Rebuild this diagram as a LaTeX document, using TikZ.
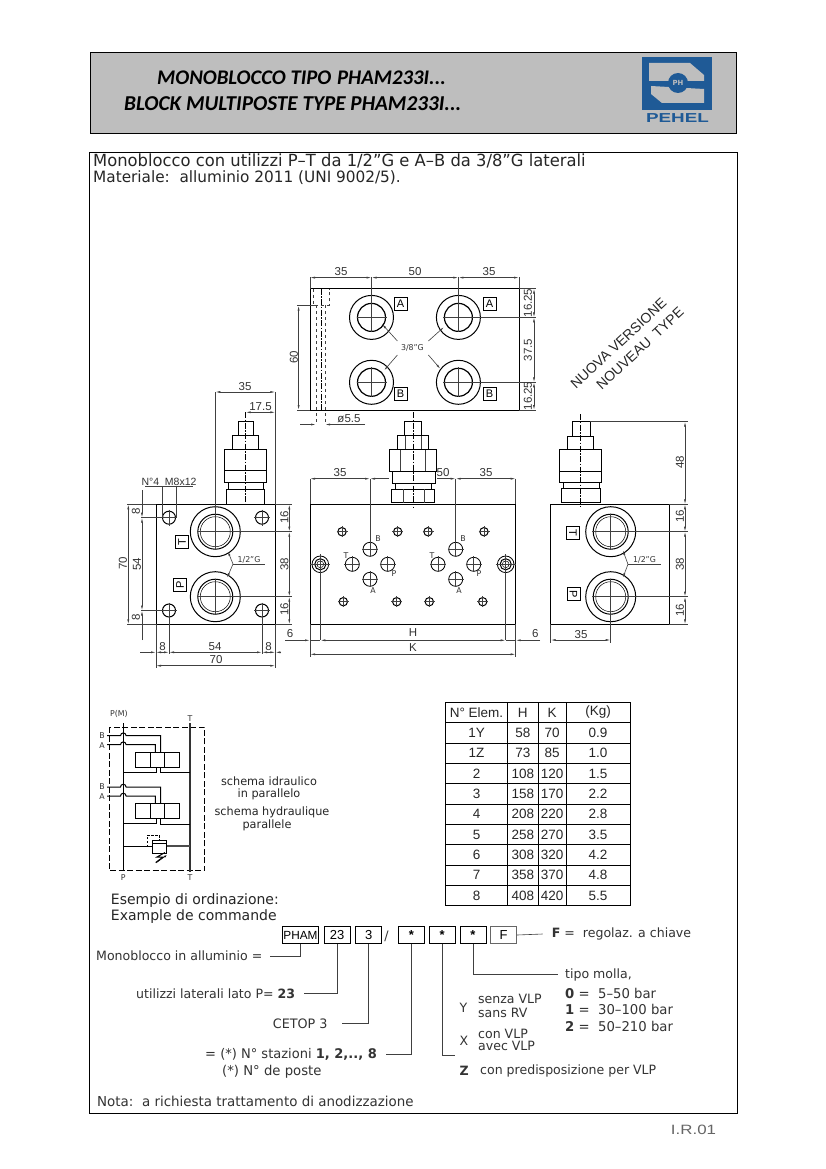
\documentclass[tikz,border=0pt]{standalone}
\usepackage{fontspec}
\setmainfont{DejaVu Sans}[FakeStretch=0.98]
\newfontfamily\headfont{Carlito}
\newfontfamily\dimfont{Liberation Sans}
\usetikzlibrary{arrows.meta,positioning}
\definecolor{headgray}{HTML}{BEBEBE}
\definecolor{logoblue}{HTML}{1F5A96}
\begin{document}
\begin{tikzpicture}[x=1pt,y=-1pt,
  outline/.style={line width=1pt,black},
  thinline/.style={line width=.6pt,black!75},
  dimline/.style={line width=.6pt,black!75,{Latex[length=5pt,width=2pt]}-{Latex[length=5pt,width=2pt]}},
  dimend/.style={line width=.6pt,black!75,-{Latex[length=5pt,width=2pt]}},
  dimtxt/.style={font=\dimfont\fontsize{11.5}{11.5}\selectfont,text=black!80,inner sep=0pt},
  smalltxt/.style={font=\fontsize{8}{8}\selectfont,text=black!80,inner sep=0pt},
  bodytxt/.style={font=\fontsize{14.3}{14.3}\selectfont,text=black!85,inner sep=0pt,anchor=west},
  notetxt/.style={font=\fontsize{12.8}{12.8}\selectfont,text=black!80,inner sep=0pt,anchor=west},
  schtxt/.style={font=\fontsize{11.5}{11.5}\selectfont,text=black!85,inner sep=0pt},
  portbox/.style={draw,line width=.8pt,font=\dimfont\fontsize{11}{11}\selectfont,inner sep=0pt,minimum size=13pt},
  codebox/.style={draw,line width=.9pt,font=\dimfont\fontsize{13}{13}\selectfont,inner sep=0pt,minimum height=16.6pt,minimum width=26pt},
  tabletxt/.style={font=\dimfont\fontsize{13.5}{13.5}\selectfont,text=black!85,inner sep=0pt},
  centerline/.style={line width=.5pt,black,dash pattern=on 6pt off 1.5pt on 1.5pt off 1.5pt}
]
\useasboundingbox (0,0) rectangle (826,1169);
\fill[white] (0,0) rectangle (826,1169);

% Title band
\draw[fill=headgray,line width=.9pt] (90,52) rectangle (736,133);
\node[font=\headfont\fontsize{20.8}{20.8}\selectfont\bfseries\itshape,inner sep=0pt,anchor=west] (titleit) at (157,78) {MONOBLOCCO TIPO\ \kern1pt PHAM233I...};
\node[font=\headfont\fontsize{21.2}{21.2}\selectfont\bfseries\itshape,inner sep=0pt,anchor=west] (titlefr) at (124,104) {BLOCK MULTIPOSTE TYPE PHAM233I...};

% Logo
\fill[logoblue] (642,57) rectangle (712,110);
\fill[headgray] (649,63) -- (690,63) -- (704,75) -- (704,81) -- (649,81) -- cycle;
\fill[headgray] (651,86) -- (704,89) -- (704,103) -- (662,103) -- (651,94) -- cycle;
\fill[logoblue] (678,83) circle[radius=10];
\node[font=\fontsize{7}{7}\selectfont\bfseries,text=headgray,inner sep=0pt] (logoph) at (678,83) {PH};
\node[font=\dimfont\fontsize{13}{13}\selectfont\bfseries,text=logoblue,inner sep=0pt,xscale=1.45] (logoname) at (677.5,118.5) {PEHEL};

% Main frame
\draw[line width=.9pt] (89,152) rectangle (737,1113);
\node[bodytxt,font=\fontsize{16.7}{16.7}\selectfont] (intro1) at (93,161) {Monoblocco con utilizzi P--T da 1/2"G e A--B da 3/8"G laterali};
\node[bodytxt,font=\fontsize{15.6}{15.6}\selectfont] (intro2) at (93,178) {Materiale:\ \ alluminio 2011 (UNI 9002/5).};

% Top view
\draw[outline] (310,288.7) rectangle (519,410);
\foreach \x in {371.5,458.4}
  \foreach \y in {317.4,382.3} {
    \draw[outline] (\x,\y) circle[radius=22];
    \draw[line width=1.2pt] (\x,\y) circle[radius=14];
    \draw[thinline] (\x-15,\y) -- (\x+15,\y);
    \draw[thinline] (\x,\y-15) -- (\x,\y+15);
  }
\draw[line width=.6pt,black!75,dashed] (313,288.7) -- (313,305) -- (329,305) -- (329,288.7);
\draw[line width=.6pt,black!75,dashed] (316,305) -- (316,424);
\draw[line width=.6pt,black!75,dashed] (325,305) -- (325,424);
\draw[centerline] (321,288.7) -- (321,410);
\node[portbox] (topA1) at (400.5,304) {A};
\node[portbox] (topA2) at (489.5,304) {A};
\node[portbox] (topB1) at (400.5,394) {B};
\node[portbox] (topB2) at (489.5,394) {B};
\node[smalltxt] (topG) at (412.4,348) {3/8"G};
\draw[dimend] (topG) ++(-15,-7) -- (382,324);
\draw[dimend] (topG) ++(16,-7) -- (444,327);
\draw[dimend] (topG) ++(-15,7) -- (384,370.5);
\draw[dimend] (topG) ++(16,7) -- (440.5,369);
\draw[thinline] (310,277) -- (310,288.7);
\draw[thinline] (371.5,277) -- (371.5,317);
\draw[thinline] (458.4,277) -- (458.4,317);
\draw[thinline] (519,277) -- (519,288.7);
\draw[dimline] (310,277.6) -- (371.5,277.6);
\draw[dimline] (371.5,277.6) -- (458.4,277.6);
\draw[dimline] (458.4,277.6) -- (519,277.6);
\node[dimtxt] (topd1) at (341,272) {35};
\node[dimtxt] (topd2) at (415,272) {50};
\node[dimtxt] (topd3) at (489,272) {35};
\draw[thinline] (458,317.4) -- (536,317.4);
\draw[thinline] (458,382.3) -- (536,382.3);
\draw[dimline] (534,288.7) -- (534,317.4);
\draw[dimline] (534,317.4) -- (534,382.3);
\draw[dimline] (534,382.3) -- (534,410);
\draw[thinline] (519,288.7) -- (536,288.7);
\draw[thinline] (519,410) -- (536,410);
\node[dimtxt,rotate=90] (topd4) at (528,303) {16.25};
\node[dimtxt,rotate=90] (topd5) at (528,350) {37.5};
\node[dimtxt,rotate=90] (topd6) at (528,396) {16.25};
\draw[thinline] (297,305.6) -- (318,305.6);
\draw[thinline] (297,410) -- (310,410);
\draw[dimline] (298.6,305.6) -- (298.6,410);
\node[dimtxt,rotate=90] (topd7) at (294,357) {60};
\draw[dimend] (300,424.5) -- (316,424.5);
\draw[dimend] (365,424.5) -- (325,424.5);
\node[dimtxt,anchor=south] (topd8) at (349,423) {ø5.5};

% New version note
\node[font=\dimfont\fontsize{14}{14}\selectfont,text=black!85,rotate=43,inner sep=0pt] (noteit) at (618.5,343.5) {NUOVA VERSIONE};
\node[font=\dimfont\fontsize{14}{14}\selectfont,text=black!85,rotate=43,inner sep=0pt] (notefr) at (640,348.5) {NOUVEAU\ \ TYPE};

% Left view
\draw[outline] (156,504.3) rectangle (275.3,624.3);
\foreach \y in {531.7,596.7} {
  \draw[outline] (215.3,\y) circle[radius=25];
  \draw[outline] (215.3,\y) circle[radius=17.5];
  \draw[line width=.5pt] (215.3,\y) circle[radius=15];
  \draw[thinline] (197,\y) -- (233,\y);
  \draw[thinline] (215.3,\y-18) -- (215.3,\y+18);
}
\foreach \x/\y in {169/517.7,262/517.7,169/610.5,262/610.5} {
  \draw[outline] (\x,\y) circle[radius=6.5];
  \draw[thinline] (\x-8,\y) -- (\x+8,\y);
  \draw[thinline] (\x,\y-8) -- (\x,\y+8);
}
\draw[outline,fill=white] (226.3,489) rectangle (264.7,504.3);
\draw[outline,fill=white] (228,482.7) rectangle (263,489);
\draw[outline,fill=white] (224.7,449) rectangle (266.7,482.7);
\draw[outline] (224.7,470.7) -- (266.7,470.7);
\draw[outline,fill=white] (232.3,435.3) rectangle (258.7,449);
\draw[outline,fill=white] (238,421.3) rectangle (253.3,435.3);
\draw[centerline] (245.7,412) -- (245.7,504);
\node[portbox,rotate=90] (leftT) at (182,542) {T};
\node[portbox,rotate=90] (leftP) at (180,585) {P};
\node[smalltxt,anchor=south] (leftG) at (249,563) {1/2"G};
\draw[thinline] (233,564) -- (265,564);
\draw[dimend] (233,564) -- (227.7,551);
\draw[dimend] (233,564) -- (227,578);
\draw[thinline] (215.3,392) -- (215.3,531);
\draw[thinline] (275.3,392) -- (275.3,504.3);
\draw[dimline] (215.3,392) -- (275.3,392);
\node[dimtxt] (leftd1) at (245,387) {35};
\draw[dimline] (245.7,412.3) -- (275.3,412.3);
\node[dimtxt] (leftd2) at (260.5,407) {17.5};
\node[dimtxt,font=\dimfont\fontsize{10.5}{10.5}\selectfont] (leftd3) at (169,481.5) {N°4\ \ M8x12};
\draw[thinline] (145,486.7) -- (193,486.7);
\draw[thinline] (162,486.7) -- (162,517);
\draw[thinline] (176,486.7) -- (176,517);
\draw[thinline] (127,504.3) -- (156,504.3);
\draw[thinline] (127,624.3) -- (156,624.3);
\draw[dimline] (128.3,504.3) -- (128.3,624.3);
\node[dimtxt,rotate=90] (leftd4) at (123,563) {70};
\draw[thinline] (141,517.7) -- (169,517.7);
\draw[thinline] (141,610.5) -- (169,610.5);
\draw[dimend] (142,490) -- (142,517.7);
\draw[dimline] (142,517.7) -- (142,610.5);
\draw[dimend] (142,640) -- (142,610.5);
\node[dimtxt,rotate=90] (leftd5) at (137,564) {54};
\node[dimtxt,rotate=90] (leftd6) at (136,511) {8};
\node[dimtxt,rotate=90] (leftd7) at (136,617) {8};
\draw[thinline] (275.3,504.3) -- (292,504.3);
\draw[thinline] (215,531.7) -- (292,531.7);
\draw[thinline] (215,596.7) -- (292,596.7);
\draw[thinline] (275.3,624.3) -- (292,624.3);
\draw[dimline] (289.3,504.3) -- (289.3,531.7);
\draw[dimline] (289.3,531.7) -- (289.3,596.7);
\draw[dimline] (289.3,596.7) -- (289.3,624.3);
\node[dimtxt,rotate=90] (leftd8) at (284.5,517) {16};
\node[dimtxt,rotate=90] (leftd9) at (284.5,564) {38};
\node[dimtxt,rotate=90] (leftd10) at (284.5,609) {16};
\draw[thinline] (156,624.3) -- (156,668);
\draw[thinline] (275.3,624.3) -- (275.3,668);
\draw[thinline] (169,610) -- (169,654);
\draw[thinline] (262,610) -- (262,654);
\draw[dimend] (140,652.3) -- (156,652.3);
\draw[dimline] (156,652.3) -- (169,652.3);
\draw[dimline] (169,652.3) -- (262,652.3);
\draw[dimline] (262,652.3) -- (275.3,652.3);
\draw[dimend] (281,652.3) -- (275.3,652.3);
\node[dimtxt] (leftd11) at (162.5,647) {8};
\node[dimtxt] (leftd12) at (215,647) {54};
\node[dimtxt] (leftd13) at (268.5,647) {8};
\draw[dimline] (156,665.7) -- (275.3,665.7);
\node[dimtxt] (leftd14) at (216,660) {70};

% Centre view
\draw[outline] (310,504.3) rectangle (515.7,624.3);
\foreach \x/\y in {342/531.7,397.7/531.7,428/531.7,484/531.7,343.3/601.7,396.7/601.7,429.3/601.7,482.7/601.7} {
  \draw[outline] (\x,\y) circle[radius=4.2];
  \draw[thinline] (\x-5.5,\y) -- (\x+5.5,\y);
  \draw[thinline] (\x,\y-5.5) -- (\x,\y+5.5);
}
\foreach \x/\y in {370/549.3,352.3/564.3,387.7/564.3,370/579.3,455.7/549.3,438/564.3,473.7/564.3,455.7/579.3} {
  \draw[line width=.8pt] (\x,\y) circle[radius=7];
  \draw[thinline] (\x-8,\y) -- (\x+8,\y);
  \draw[thinline] (\x,\y-8) -- (\x,\y+8);
}
\foreach \x in {320.3,505.7} {
  \draw[line width=.8pt] (\x,564.3) circle[radius=8.3];
  \draw[outline] (\x,564.3) circle[radius=5.6];
  \draw[line width=.5pt] (\x,564.3) circle[radius=3.4];
  \draw[thinline] (\x-10,564.3) -- (\x+10,564.3);
  \draw[thinline] (\x,554) -- (\x,640.3);
}
\foreach \t/\x/\y [count=\i] in {B/378/539,T/346/556,P/394/574,A/373/591,B/463/539,T/432/556,P/479/574,A/459/591}
  \node[smalltxt] (mark\i) at (\x,\y) {\t};
\draw[outline,fill=white] (391.3,489) rectangle (434.7,502.5);
\draw[outline,fill=white] (395.7,483) rectangle (431.3,489);
\draw[outline,fill=white] (392.3,471) rectangle (435,483);
\draw[outline,fill=white] (389.3,449.3) rectangle (436.7,471);
\draw[thinline] (400.5,449.3) -- (400.5,471);
\draw[thinline] (425.5,449.3) -- (425.5,471);
\draw[thinline] (403,489) -- (403,502.5);
\draw[thinline] (424,489) -- (424,502.5);
\draw[outline,fill=white] (397.3,435.7) rectangle (428.7,449.3);
\draw[thinline] (405,435.7) -- (405,449.3);
\draw[thinline] (421,435.7) -- (421,449.3);
\draw[outline,fill=white] (404.7,421.7) rectangle (421.3,435.7);
\draw[centerline] (413.3,412) -- (413.3,507);
\draw[thinline] (310,478.7) -- (310,504.3);
\draw[thinline] (515.7,478.7) -- (515.7,504.3);
\draw[thinline] (370,478.7) -- (370,547);
\draw[thinline] (455.7,478.7) -- (455.7,547);
\draw[dimline] (310,478.7) -- (370,478.7);
\draw[dimend] (389,478.7) -- (370,478.7);
\draw[dimend] (437,478.7) -- (455.7,478.7);
\draw[dimline] (455.7,478.7) -- (515.7,478.7);
\node[dimtxt] (midd1) at (340,473) {35};
\node[dimtxt] (midd2) at (443,473) {50};
\node[dimtxt] (midd3) at (486,473) {35};
\draw[thinline] (310,624.3) -- (310,657);
\draw[thinline] (515.7,624.3) -- (515.7,657);
\draw[dimend] (285,640.3) -- (310,640.3);
\draw[dimline] (320.3,640.3) -- (505.7,640.3);
\draw[dimend] (540,640.3) -- (515.7,640.3);
\draw[thinline] (310,640.3) -- (320.3,640.3);
\draw[thinline] (505.7,640.3) -- (515.7,640.3);
\draw[dimline] (310,654.3) -- (515.7,654.3);
\node[dimtxt] (midd4) at (290,634) {6};
\node[dimtxt] (midH) at (413,633) {H};
\node[dimtxt] (midd5) at (535.3,634) {6};
\node[dimtxt] (midK) at (413,648) {K};

% Right view
\draw[outline] (550.7,504.3) rectangle (669.3,624.3);
\foreach \y in {531.7,596.7} {
  \draw[outline] (610.7,\y) circle[radius=25];
  \draw[outline] (610.7,\y) circle[radius=17.5];
  \draw[line width=.5pt] (610.7,\y) circle[radius=15];
  \draw[thinline] (592,\y) -- (629,\y);
  \draw[thinline] (610.7,\y-18) -- (610.7,\y+18);
}
\draw[outline,fill=white] (561.7,488.3) rectangle (600,502.7);
\draw[outline,fill=white] (563,482.7) rectangle (599,488.3);
\draw[outline,fill=white] (559.3,449.3) rectangle (601.7,482.7);
\draw[outline] (559.3,471) -- (601.7,471);
\draw[outline,fill=white] (567.7,436) rectangle (593.3,449.3);
\draw[outline,fill=white] (572.3,421.7) rectangle (590,436);
\draw[centerline] (580.7,414) -- (580.7,506);
\node[portbox,rotate=-90] (rightT) at (573,533) {T};
\node[portbox,rotate=-90] (rightP) at (573.5,594) {P};
\node[smalltxt,anchor=south] (rightG) at (644.5,563) {1/2"G};
\draw[thinline] (628,564.3) -- (661,564.3);
\draw[dimend] (628,564.3) -- (622.7,550);
\draw[dimend] (628,564.3) -- (622.7,578);
\draw[thinline] (590,421.7) -- (688,421.7);
\draw[thinline] (669.3,504.3) -- (688,504.3);
\draw[thinline] (611,531.7) -- (688,531.7);
\draw[thinline] (611,596.7) -- (688,596.7);
\draw[thinline] (669.3,624.3) -- (688,624.3);
\draw[dimline] (685,421.7) -- (685,504.3);
\draw[dimline] (685,504.3) -- (685,531.7);
\draw[dimline] (685,531.7) -- (685,596.7);
\draw[dimline] (685,596.7) -- (685,624.3);
\node[dimtxt,rotate=90] (rightd1) at (680,462) {48};
\node[dimtxt,rotate=90] (rightd2) at (680,516) {16};
\node[dimtxt,rotate=90] (rightd3) at (680,564) {38};
\node[dimtxt,rotate=90] (rightd4) at (680,610) {16};
\draw[thinline] (550.7,624.3) -- (550.7,643);
\draw[thinline] (610.7,597) -- (610.7,643);
\draw[dimline] (550.7,640) -- (610.7,640);
\node[dimtxt] (rightd5) at (581,635) {35};

% Hydraulic schema
\draw[line width=.8pt,dashed,dash pattern=on 6pt off 2.5pt] (109,727.3) rectangle (204.7,870.7);
\draw[outline] (123.3,723) -- (123.3,871);
\draw[line width=1.2pt,black!80] (190,723) -- (190,872);
\foreach \dy in {0,51.3} {
  \draw[outline] (107,735.7+\dy) -- (120.5,735.7+\dy) arc[start angle=180,end angle=360,radius=2.8] -- (160.7,735.7+\dy) -- (160.7,752.3+\dy);
  \draw[outline] (107,744.7+\dy) -- (120.5,744.7+\dy) arc[start angle=180,end angle=360,radius=2.8] -- (155.3,744.7+\dy) -- (155.3,752.3+\dy);
  \draw[outline] (135.7,752.3+\dy) rectangle (179.7,767.3+\dy);
  \draw[outline] (150.7,752.3+\dy) -- (150.7,767.3+\dy);
  \draw[outline] (164.7,752.3+\dy) -- (164.7,767.3+\dy);
  \draw[outline] (123.3,772.3+\dy) -- (156,772.3+\dy) -- (156,767.3+\dy);
  \draw[outline] (160.7,767.3+\dy) -- (160.7,772.7+\dy) -- (190,772.7+\dy);
}
\draw[outline,fill=white] (152.3,840) rectangle (166.7,853.3);
\draw[line width=.6pt] (152.3,843.3) -- (166.7,843.3);
\draw[outline] (123.3,846) -- (152.3,846);
\draw[line width=1.2pt,black!70] (166.7,846) -- (190,846);
\draw[line width=.7pt,dashed,dash pattern=on 2.5pt off 1.5pt] (152.3,846) -- (147.3,846) -- (147.3,835) -- (159.3,835) -- (159.3,840);
\draw[line width=1pt] (155.7,862.5) -- (163,857) -- (157,857) -- (165,852.5);
\draw[line width=.5pt,-{Latex[length=3pt,width=2pt]}] (156,863) -- (167,855);
\node[smalltxt] (hydPM) at (119,714) {P(M)};
\node[smalltxt] (hydT1) at (190,719) {T};
\node[smalltxt] (hydP) at (123.3,878) {P};
\node[smalltxt] (hydT2) at (190,878) {T};
\foreach \t/\y [count=\i] in {B/736,A/746,B/787,A/797}
  \node[smalltxt] (port\i) at (102,\y) {\t};
\node[schtxt] (sch1) at (269,781) {schema idraulico};
\node[schtxt] (sch2) at (269,794) {in parallelo};
\node[schtxt] (sch3) at (272,812) {schema hydraulique};
\node[schtxt] (sch4) at (267,825) {parallele};

% Table
\draw[line width=1pt] (445.7,702.3) rectangle (630,905.7);
\foreach \i in {1,...,9}
  \draw[line width=.9pt] (445.7,702.3+\i*20.34) -- (630,702.3+\i*20.34);
\foreach \x in {507.3,538.3,566}
  \draw[line width=.9pt] (\x,702.3) -- (\x,905.7);
\foreach \a/\b/\c/\d [count=\i from 0] in {{N° Elem.}/H/K/(Kg),1Y/58/70/0.9,1Z/73/85/1.0,2/108/120/1.5,3/158/170/2.2,4/208/220/2.8,5/258/270/3.5,6/308/320/4.2,7/358/370/4.8,8/408/420/5.5} {
  \node[tabletxt] (ta\i) at (476.5,712.5+\i*20.34) {\a};
  \node[tabletxt] (tb\i) at (522.8,712.5+\i*20.34) {\b};
  \node[tabletxt] (tc\i) at (552.2,712.5+\i*20.34) {\c};
  \node[tabletxt] (td\i) at (598,712.5+\i*20.34) {\d};
}

% Ordering code
\node[bodytxt] (ex1) at (110.7,901) {Esempio di ordinazione:};
\node[bodytxt] (ex2) at (110.7,917) {Example de commande};
\node[codebox,minimum width=35.6pt,font=\dimfont\fontsize{11.8}{11.8}\selectfont] (pham) at (300.5,935) {PHAM};
\node[codebox] (c23) at (337.2,935) {23};
\node[codebox] (c3) at (368.7,935) {3};
\node[dimtxt,font=\fontsize{13}{13}\selectfont] (slash) at (386.5,936) {/};
\node[codebox] (st1) at (411.3,935) {\textbf{*}};
\node[codebox] (st2) at (442.2,935) {\textbf{*}};
\node[codebox] (st3) at (473,935) {\textbf{*}};
\node[codebox,draw=black!60] (cf) at (503.7,935) {F};
\node[notetxt] (regol) at (551.7,934) {\textbf{F} =\ \ regolaz. a chiave};
\node[notetxt] (monol) at (96,956) {Monoblocco in alluminio =};
\node[notetxt] (utill) at (136,993.5) {utilizzi laterali lato P= \textbf{23}};
\node[notetxt,font=\fontsize{13}{13}\selectfont] (cetopl) at (272.7,1023.3) {CETOP 3};
\node[notetxt,font=\fontsize{13.3}{13.3}\selectfont] (stazl) at (205,1054) {= (*) N° stazioni \textbf{1, 2,.., 8}};
\node[notetxt,font=\fontsize{13.5}{13.5}\selectfont] (posteal) at (222,1072) {(*) N° de poste};
\node[notetxt] (mollal) at (565,974.5) {tipo molla,};
\node[notetxt,font=\fontsize{13.5}{13.5}\selectfont] (m0) at (565,993.7) {\textbf{0} =\ \ 5--50 bar};
\node[notetxt,font=\fontsize{13.5}{13.5}\selectfont] (m1) at (565,1009.7) {\textbf{1} =\ \ 30--100 bar};
\node[notetxt,font=\fontsize{13.5}{13.5}\selectfont] (m2) at (565,1026) {\textbf{2} =\ \ 50--210 bar};
\node[notetxt] (ly) at (459.5,1007.7) {Y};
\node[notetxt] (ly1) at (478,999) {senza VLP};
\node[notetxt] (ly2) at (478,1013) {sans RV};
\node[notetxt] (lx) at (459.5,1041) {X};
\node[notetxt] (lx1) at (478,1034) {con VLP};
\node[notetxt] (lx2) at (478,1046) {avec VLP};
\node[notetxt] (lz) at (459.5,1071) {\textbf{Z}};
\node[notetxt] (lz1) at (480,1071) {con predisposizione per VLP};
\node[notetxt,font=\fontsize{13.7}{13.7}\selectfont] (nota) at (97,1101) {Nota:\ \ a richiesta trattamento di anodizzazione};
\node[font=\dimfont\fontsize{13.5}{13.5}\selectfont,text=black!60,inner sep=0pt,xscale=1.25] (pagecode) at (693.5,1130) {I.R.01};
\coordinate (xyz) at (455,1055);
\draw[thinline] (pham.south) |- ([xshift=8pt]monol.east);
\draw[thinline] (c23.south) |- ([xshift=9pt]utill.east);
\draw[thinline] (c3.south) |- ([xshift=14pt]cetopl.east);
\draw[thinline] (st1.south) |- ([xshift=9pt]stazl.east);
\draw[thinline] (st2.south) |- (xyz);
\draw[thinline] (st3.south) |- ([xshift=-7pt]mollal.west);
\draw[thinline] (cf.east) -- ([xshift=-9pt]regol.west);
\end{tikzpicture}
\end{document}
